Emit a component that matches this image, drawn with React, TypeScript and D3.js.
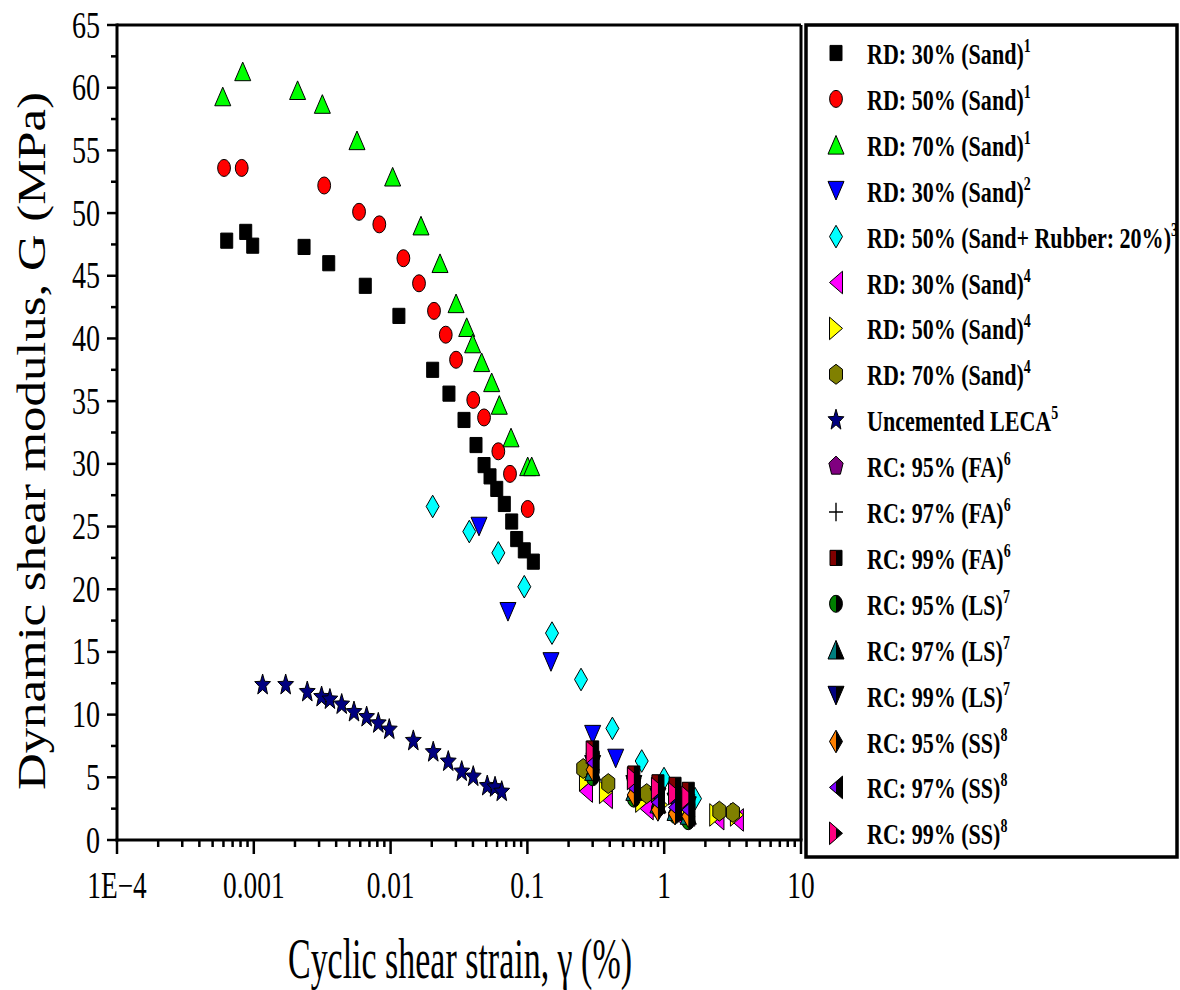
import React from 'react';
import * as d3 from 'd3';

// ---------- data ----------
const xTickValues = [1e-4, 1e-3, 1e-2, 1e-1, 1, 10];
const xTickLabels = ['1E\u22124', '0.001', '0.01', '0.1', '1', '10'];
const yTickValues = [0, 5, 10, 15, 20, 25, 30, 35, 40, 45, 50, 55, 60, 65];

const rd30Sand1X = [0.000634, 0.000873, 0.000982, 0.00233, 0.00353, 0.00653, 0.0115, 0.0203, 0.0267, 0.0344, 0.0421, 0.0482, 0.0533, 0.0597, 0.0678, 0.0768, 0.0835, 0.0949, 0.1105];
const rd30Sand1Y = [47.8, 48.5, 47.4, 47.3, 46.0, 44.2, 41.8, 37.5, 35.6, 33.5, 31.5, 29.9, 29.0, 28.0, 26.8, 25.4, 24.0, 23.1, 22.2];

const rd50Sand1X = [0.000606, 0.000816, 0.00327, 0.00588, 0.00827, 0.0124, 0.01613, 0.02076, 0.0253, 0.0301, 0.0402, 0.0482, 0.0613, 0.0746, 0.1005];
const rd50Sand1Y = [53.6, 53.6, 52.2, 50.1, 49.1, 46.4, 44.4, 42.2, 40.3, 38.3, 35.1, 33.7, 31.0, 29.2, 26.4];

const rd70Sand1X = [0.000593, 0.00083, 0.00209, 0.00317, 0.00568, 0.01035, 0.01668, 0.02297, 0.0301, 0.036, 0.0398, 0.0463, 0.0548, 0.0623, 0.0759, 0.1005, 0.1075];
const rd70Sand1Y = [59.3, 61.3, 59.8, 58.7, 55.8, 52.9, 49.0, 46.0, 42.8, 40.9, 39.6, 38.1, 36.5, 34.7, 32.1, 29.8, 29.8];

const rd30Sand2X = [0.0443, 0.0721, 0.1487, 0.3, 0.442];
const rd30Sand2Y = [25.0, 18.2, 14.2, 8.4, 6.5];

const rd50RubberX = [0.0203, 0.0376, 0.0613, 0.0949, 0.1513, 0.2466, 0.418, 0.685, 0.997, 1.68];
const rd50RubberY = [26.6, 24.6, 22.9, 20.2, 16.5, 12.8, 8.9, 6.3, 4.9, 3.3];

const rd30Sand4X = [0.268, 0.375, 0.745, 1.2, 1.5, 2.45, 3.4];
const rd30Sand4Y = [3.9, 3.4, 2.5, 2.2, 2.0, 1.7, 1.6];

const rd50Sand4X = [0.268, 0.375, 0.69, 0.95, 1.35, 2.4, 3.4];
const rd50Sand4Y = [4.8, 3.8, 3.1, 2.8, 2.5, 2.0, 2.0];

const rd70Sand4X = [0.256, 0.39, 0.745, 0.9, 1.5, 2.53, 3.18];
const rd70Sand4Y = [5.7, 4.5, 3.7, 3.4, 2.8, 2.3, 2.2];

const lecaX = [0.00116, 0.00171, 0.00246, 0.00313, 0.0036, 0.00439, 0.0054, 0.00668, 0.00813, 0.00978, 0.01466, 0.0205, 0.0264, 0.0331, 0.0402, 0.0509, 0.058, 0.0649];
const lecaY = [12.36, 12.36, 11.8, 11.4, 11.2, 10.8, 10.2, 9.8, 9.3, 8.8, 7.9, 7.0, 6.25, 5.45, 5.05, 4.3, 4.2, 3.85];

const rcStrain = [0.3, 0.6, 0.9, 1.2, 1.5];
const rc95FA = [6.5, 4.7, 3.9, 3.5, 3.2];
const rc97FA = [6.9, 5.0, 4.2, 3.9, 3.6];
const rc99FA = [7.3, 5.3, 4.6, 4.4, 4.0];
const rc95LS = [5.0, 3.3, 2.5, 2.0, 1.5];
const rc97LS = [5.5, 3.9, 2.9, 2.3, 2.0];
const rc99LS = [6.0, 4.4, 3.4, 3.0, 2.7];
const rc95SS = [5.6, 3.6, 2.4, 2.1, 1.9];
const rc97SS = [6.2, 4.2, 3.0, 2.6, 2.4];
const rc99SS = [7.0, 4.9, 4.1, 3.7, 3.4];

type Series = { label: string; sup: string; shape: string; fill: string; half?: boolean; xs: number[]; ys: number[] };

const series: Series[] = [
  { label: 'RD: 30% (Sand)', sup: '1', shape: 'square', fill: '#000000', xs: rd30Sand1X, ys: rd30Sand1Y },
  { label: 'RD: 50% (Sand)', sup: '1', shape: 'circle', fill: '#ff0000', xs: rd50Sand1X, ys: rd50Sand1Y },
  { label: 'RD: 70% (Sand)', sup: '1', shape: 'triUp', fill: '#00ff00', xs: rd70Sand1X, ys: rd70Sand1Y },
  { label: 'RD: 30% (Sand)', sup: '2', shape: 'triDown', fill: '#0000ff', xs: rd30Sand2X, ys: rd30Sand2Y },
  { label: 'RD: 50% (Sand+ Rubber: 20%)', sup: '3', shape: 'diamond', fill: '#00ffff', xs: rd50RubberX, ys: rd50RubberY },
  { label: 'RD: 30% (Sand)', sup: '4', shape: 'triLeft', fill: '#ff00ff', xs: rd30Sand4X, ys: rd30Sand4Y },
  { label: 'RD: 50% (Sand)', sup: '4', shape: 'triRight', fill: '#ffff00', xs: rd50Sand4X, ys: rd50Sand4Y },
  { label: 'RD: 70% (Sand)', sup: '4', shape: 'hexagon', fill: '#808000', xs: rd70Sand4X, ys: rd70Sand4Y },
  { label: 'Uncemented LECA', sup: '5', shape: 'star', fill: '#000080', xs: lecaX, ys: lecaY },
  { label: 'RC: 95% (FA)', sup: '6', shape: 'pentagon', fill: '#800080', xs: rcStrain, ys: rc95FA },
  { label: 'RC: 97% (FA)', sup: '6', shape: 'plus', fill: '#000000', xs: rcStrain, ys: rc97FA },
  { label: 'RC: 99% (FA)', sup: '6', shape: 'square', fill: '#800000', half: true, xs: rcStrain, ys: rc99FA },
  { label: 'RC: 95% (LS)', sup: '7', shape: 'circle', fill: '#008000', half: true, xs: rcStrain, ys: rc95LS },
  { label: 'RC: 97% (LS)', sup: '7', shape: 'triUp', fill: '#008080', half: true, xs: rcStrain, ys: rc97LS },
  { label: 'RC: 99% (LS)', sup: '7', shape: 'triDown', fill: '#000080', half: true, xs: rcStrain, ys: rc99LS },
  { label: 'RC: 95% (SS)', sup: '8', shape: 'diamond', fill: '#ff8000', half: true, xs: rcStrain, ys: rc95SS },
  { label: 'RC: 97% (SS)', sup: '8', shape: 'triLeft', fill: '#8000ff', half: true, xs: rcStrain, ys: rc97SS },
  { label: 'RC: 99% (SS)', sup: '8', shape: 'triRight', fill: '#ff0080', half: true, xs: rcStrain, ys: rc99SS },
];

// ---------- layout ----------
const W = 1180, H = 990;
const PL = 117, PR = 801, PT = 25, PB = 840;
const SY = 1.33; // vertical stretch of markers
const serif = "'Liberation Serif','Times New Roman',serif";

const x = d3.scaleLog().domain([1e-4, 10]).range([PL, PR]);
const y = d3.scaleLinear().domain([0, 65]).range([PB, PT]);

function polygon(n: number, r: number, startDeg: number): string {
  const pts: [number, number][] = d3.range(n).map((i) => {
    const a = ((startDeg + (360 / n) * i) * Math.PI) / 180;
    return [r * Math.cos(a), r * Math.sin(a)];
  });
  return (d3.line()(pts) as string) + 'Z';
}

function starPath(ro: number, ri: number): string {
  const pts: [number, number][] = d3.range(10).map((i) => {
    const a = ((-90 + 36 * i) * Math.PI) / 180;
    const r = i % 2 === 0 ? ro : ri;
    return [r * Math.cos(a), r * Math.sin(a)];
  });
  return (d3.line()(pts) as string) + 'Z';
}

function shapePath(kind: string): string {
  switch (kind) {
    case 'square': return 'M-6,-5.7H6V5.7H-6Z';
    case 'circle': return d3.symbol().type(d3.symbolCircle).size(Math.PI * 6.4 * 6.4)() as string;
    case 'triUp': return 'M0,-7L8,7L-8,7Z';
    case 'triDown': return 'M0,7L8,-7L-8,-7Z';
    case 'triLeft': return 'M-6.5,0L6.5,-8.5L6.5,8.5Z';
    case 'triRight': return 'M6.5,0L-6.5,-8.5L-6.5,8.5Z';
    case 'diamond': return 'M0,-8.5L6.5,0L0,8.5L-6.5,0Z';
    case 'hexagon': return polygon(6, 7.5, -90);
    case 'pentagon': return polygon(5, 7.5, -90);
    case 'star': return starPath(8.3, 3.5);
    case 'plus': return 'M-7,0H7M0,-7V7';
  }
  return '';
}

function Marker({ cx, cy, s }: { cx: number; cy: number; s: Series }) {
  const d = shapePath(s.shape);
  const t = `translate(${cx},${cy}) scale(1,${SY})`;
  if (s.shape === 'plus') {
    return <g transform={t}><path d={d} stroke="#000" strokeWidth={1.4} fill="none" vectorEffect="non-scaling-stroke" /></g>;
  }
  if (s.half) {
    return (
      <g transform={t}>
        <path d={d} fill="#000" />
        <path d={d} fill={s.fill} clipPath="url(#leftHalf)" />
        <path d={d} fill="none" stroke="#000" strokeWidth={1} vectorEffect="non-scaling-stroke" />
      </g>
    );
  }
  return <g transform={t}><path d={d} fill={s.fill} stroke="#000" strokeWidth={1} vectorEffect="non-scaling-stroke" /></g>;
}

export default function App() {
  const minorX = x.ticks().filter((v) => !xTickValues.some((m) => Math.abs(m - v) / m < 1e-9));
  const minorY = d3.range(2.5, 65, 5);
  const legendY0 = 53, legendDY = 45.9;
  return (
    <svg width={W} height={H} style={{ position: 'absolute', left: 0, top: 0, background: '#fff' }}>
      <defs>
        <clipPath id="leftHalf" clipPathUnits="userSpaceOnUse">
          <rect x={-20} y={-20} width={20} height={40} />
        </clipPath>
      </defs>
      <rect x={0} y={0} width={W} height={H} fill="#fff" />

      {/* data */}
      {series.map((s, si) => (
        <g key={si}>
          {s.xs.map((xv, i) => <Marker key={i} cx={x(xv)} cy={y(s.ys[i])} s={s} />)}
        </g>
      ))}

      {/* frame */}
      <line x1={PL} x2={PR} y1={PT} y2={PT} stroke="#000" strokeWidth={3} />
      <line x1={PR} x2={PR} y1={PT} y2={PB} stroke="#000" strokeWidth={3} />
      <line x1={PL} x2={PL} y1={PT - 1.5} y2={PB + 1.5} stroke="#000" strokeWidth={3} />
      <line x1={PL - 1.5} x2={PR + 1.5} y1={PB} y2={PB} stroke="#000" strokeWidth={3} />

      {/* y ticks */}
      {yTickValues.map((v) => (
        <g key={v}>
          <line x1={PL - 10} x2={PL} y1={y(v)} y2={y(v)} stroke="#000" strokeWidth={2.5} />
          <text transform={`translate(100,${y(v) + 12.5}) scale(0.76,1)`} textAnchor="end" fontFamily={serif} fontSize={37} fill="#000">{v}</text>
        </g>
      ))}
      {minorY.map((v) => <line key={v} x1={PL - 6} x2={PL} y1={y(v)} y2={y(v)} stroke="#000" strokeWidth={2.5} />)}

      {/* x ticks */}
      {xTickValues.map((v, i) => (
        <g key={v}>
          <line x1={x(v)} x2={x(v)} y1={PB} y2={PB + 14} stroke="#000" strokeWidth={2.5} />
          <text transform={`translate(${x(v)},898) scale(0.74,1)`} textAnchor="middle" fontFamily={serif} fontSize={37} fill="#000">{xTickLabels[i]}</text>
        </g>
      ))}
      {minorX.map((v, i) => <line key={i} x1={x(v)} x2={x(v)} y1={PB} y2={PB + 7} stroke="#000" strokeWidth={2.5} />)}

      {/* axis titles */}
      <text x={288} y={978} fontFamily={serif} fontSize={58} textLength={344} lengthAdjust="spacingAndGlyphs" fill="#000">Cyclic shear strain, γ (%)</text>
      <text transform="translate(45,441) rotate(-90)" textAnchor="middle" fontFamily={serif} fontSize={41} textLength={698} lengthAdjust="spacingAndGlyphs" fill="#000">Dynamic shear modulus, G (MPa)</text>

      {/* legend */}
      <rect x={806} y={25} width={371} height={832} fill="none" stroke="#000" strokeWidth={3.5} />
      {series.map((s, i) => {
        const ly = legendY0 + i * legendDY;
        return (
          <g key={i}>
            <Marker cx={836} cy={ly} s={s} />
            <text transform={`translate(867,${ly + 11}) scale(0.735,1)`} fontFamily={serif} fontWeight="bold" fontSize={30} fill="#000">
              {s.label}
              <tspan fontSize={19} dy={-12}>{s.sup}</tspan>
            </text>
          </g>
        );
      })}
    </svg>
  );
}
